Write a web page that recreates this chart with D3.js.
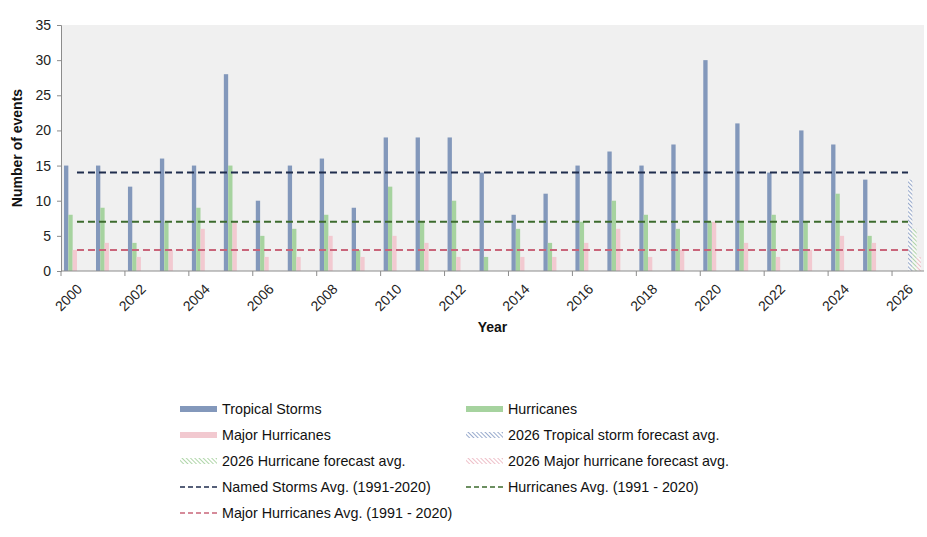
<!DOCTYPE html>
<html><head><meta charset="utf-8">
<script src="https://cdn.jsdelivr.net/npm/d3@7/dist/d3.min.js"></script>
<style>body{margin:0;background:#fff;font-family:"Liberation Sans",Arial,sans-serif;}</style>
</head><body><svg id="c" width="927" height="537"></svg>
<script>
const years = d3.range(2000, 2027).map(String);
const tropicalStorms = [15,15,12,16,15,28,10,15,16,9,19,19,19,14,8,11,15,17,15,18,30,21,14,20,18,13,null];
const hurricanes     = [8,9,4,7,9,15,5,6,8,3,12,7,10,2,6,4,7,10,8,6,7,7,8,7,11,5,null];
const majorHurricanes= [3,4,2,3,6,7,2,2,5,2,5,4,2,0,2,2,4,6,2,3,7,4,2,3,5,4,null];
const forecastTS  = [{year:"2026", value:13}];
const forecastH   = [{year:"2026", value:6}];
const forecastMH  = [{year:"2026", value:2}];
const namedStormsAvg = 14, hurricanesAvg = 7, majorHurricanesAvg = 3;
const yTicks = [0,5,10,15,20,25,30,35];
const seriesNames = ["Tropical Storms","Hurricanes","Major Hurricanes","2026 Tropical storm forecast avg.","2026 Hurricane forecast avg.","2026 Major hurricane forecast avg."];
const lineNames = ["Named Storms Avg. (1991-2020)","Hurricanes Avg. (1991 - 2020)","Major Hurricanes Avg. (1991 - 2020)"];

const colors = {ts:"#8398bb", h:"#a6d39f", mh:"#f2c9d0", tsLine:"#1f2d4d", hLine:"#3d6b2e", mhLine:"#c9657a"};

const svg = d3.select("#c");
const defs = svg.append("defs");
function hatch(id, color){
  const p = defs.append("pattern").attr("id", id).attr("patternUnits","userSpaceOnUse")
    .attr("width",3).attr("height",3).attr("patternTransform","rotate(-45)");
  p.append("rect").attr("width",3).attr("height",3).attr("fill","#fff").attr("fill-opacity",0.5);
  p.append("line").attr("x1",0).attr("y1",0).attr("x2",0).attr("y2",3).attr("stroke",color).attr("stroke-width",1.6);
}
hatch("hTS", "#7f96c0"); hatch("hH", "#9ccc93"); hatch("hMH", "#eab0bb");

const M = {l:61, r:924, t:25, b:271};
svg.append("rect").attr("x",M.l).attr("y",M.t).attr("width",M.r-M.l).attr("height",M.b-M.t).attr("fill","#f0f0f0");

const x = d3.scaleBand().domain(years).range([M.l, M.r]).paddingInner(0).paddingOuter(0);
const y = d3.scaleLinear().domain([0,35]).range([M.b, M.t]);
const inner = d3.scaleBand().domain(d3.range(6)).range([0, x.bandwidth()]).paddingOuter(0.7).paddingInner(0);

function drawBars(data, slot, fill){
  svg.append("g").selectAll("rect").data(data.filter(d => d.value != null)).join("rect")
    .attr("x", d => x(d.year) + inner(slot))
    .attr("width", inner.bandwidth())
    .attr("y", d => y(d.value))
    .attr("height", d => y(0) - y(d.value))
    .attr("fill", fill);
}
const toObj = arr => arr.map((v,i) => ({year: years[i], value: v}));
drawBars(toObj(tropicalStorms), 0, colors.ts);
drawBars(toObj(hurricanes), 1, colors.h);
drawBars(toObj(majorHurricanes), 2, colors.mh);
drawBars(forecastTS, 3, "url(#hTS)");
drawBars(forecastH, 4, "url(#hH)");
drawBars(forecastMH, 5, "url(#hMH)");

// average lines
const line = d3.line().x(d => x(d.year) + x.bandwidth()/2).y(d => y(d.value));
[[namedStormsAvg, colors.tsLine],[hurricanesAvg, colors.hLine],[majorHurricanesAvg, colors.mhLine]].forEach(([v,c]) => {
  svg.append("path").datum(years.map(yr => ({year: yr, value: v})))
    .attr("d", line).attr("fill","none").attr("stroke", c).attr("stroke-width",2).attr("stroke-dasharray","7,4");
});

// y axis
const yAxis = svg.append("g").attr("transform",`translate(${M.l},0)`)
  .call(d3.axisLeft(y).tickValues(yTicks).tickSize(4).tickPadding(6));
yAxis.select(".domain").attr("stroke","#8c8c8c");
yAxis.selectAll(".tick line").attr("stroke","#8c8c8c");
yAxis.selectAll("text").attr("font-size",14).attr("fill","#222").attr("font-family","Liberation Sans, Arial, sans-serif");

// x axis
const xg = svg.append("g").attr("transform",`translate(0,${M.b})`);
xg.append("line").attr("x1",M.l).attr("x2",M.r).attr("stroke","#8c8c8c");
const tickYears = years.filter((d,i) => i % 2 === 0);
xg.selectAll(".tk").data(tickYears).join("line")
  .attr("x1", d => x(d)).attr("x2", d => x(d)).attr("y1",0).attr("y2",5).attr("stroke","#8c8c8c");
xg.selectAll(".lbl").data(tickYears).join("text")
  .attr("transform", d => `translate(${x(d)+x.bandwidth()/2-1},${12}) rotate(-45)`)
  .attr("text-anchor","end").attr("dy","0.7em")
  .attr("font-size",14).attr("fill","#222").text(d => d);

svg.append("text").attr("x",(M.l+M.r)/2).attr("y",332).attr("text-anchor","middle")
  .attr("font-weight","bold").attr("font-size",14).attr("fill","#111").text("Year");
svg.append("text").attr("transform",`translate(22,${(M.t+M.b)/2}) rotate(-90)`).attr("text-anchor","middle")
  .attr("font-weight","bold").attr("font-size",14).attr("fill","#111").text("Number of events");

// legend
const legendItems = [
  {name: seriesNames[0], type:"bar", fill: colors.ts},
  {name: seriesNames[1], type:"bar", fill: colors.h},
  {name: seriesNames[2], type:"bar", fill: colors.mh},
  {name: seriesNames[3], type:"bar", fill: "url(#hTS)"},
  {name: seriesNames[4], type:"bar", fill: "url(#hH)"},
  {name: seriesNames[5], type:"bar", fill: "url(#hMH)"},
  {name: lineNames[0], type:"line", fill: colors.tsLine},
  {name: lineNames[1], type:"line", fill: colors.hLine},
  {name: lineNames[2], type:"line", fill: colors.mhLine}
];
const colX = [180, 466], rowY0 = 409, rowH = 26;
const lg = svg.append("g").selectAll("g").data(legendItems).join("g")
  .attr("transform", (d,i) => `translate(${colX[i%2]},${rowY0 + Math.floor(i/2)*rowH})`);
lg.each(function(d){
  const g = d3.select(this);
  if (d.type === "bar") g.append("rect").attr("x",0).attr("y",-3).attr("width",37).attr("height",6).attr("fill", d.fill);
  else g.append("line").attr("x1",0).attr("x2",38).attr("stroke", d.fill).attr("stroke-width",1.5).attr("stroke-dasharray","5,3");
  g.append("text").attr("x",42).attr("dy","0.35em").attr("font-size",14.3).attr("fill","#111").text(d.name);
});
</script></body></html>
